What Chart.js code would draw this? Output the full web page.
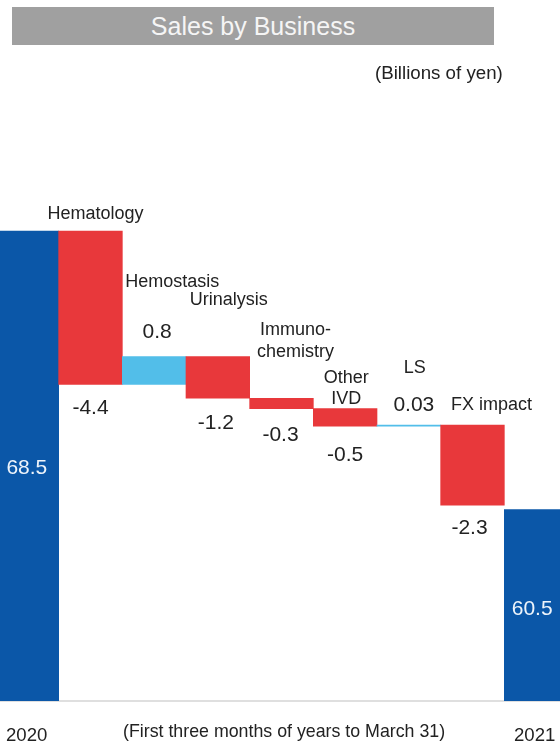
<!DOCTYPE html>
<html>
<head>
<meta charset="utf-8">
<script src="https://cdn.jsdelivr.net/npm/chart.js@4"></script>
<style>
  html, body { margin: 0; padding: 0; width: 560px; height: 744px; overflow: hidden; background: #fff; font-family: "Liberation Sans", Arial, sans-serif; }
  #wrap { position: absolute; left: -5px; top: 0; width: 573px; height: 744px; }
  .t { position: absolute; color: #222; white-space: nowrap; }
  #title { position: absolute; left: 12px; top: 7px; width: 482px; height: 38px; background: #a0a0a0; color: #f5f5f5; font-size: 25px; line-height: 38px; text-align: center; }
</style>
</head>
<body>
<div id="wrap"><canvas id="c"></canvas></div>
<div id="title">Sales by Business</div>
<div class="t" style="left:375px; top:62px; font-size:18.7px;">(Billions of yen)</div>
<div class="t" style="left:6px; top:724px; font-size:18.6px;">2020</div>
<div class="t" style="left:514px; top:724px; font-size:18.6px;">2021</div>
<div class="t" style="left:123px; top:721px; font-size:17.8px;">(First three months of years to March 31)</div>
<script>
// ---- data ----
const categories = ['2020', 'Hematology', 'Hemostasis', 'Urinalysis', 'Immuno-chemistry', 'Other IVD', 'LS', 'FX impact', '2021'];
const startTotal = 68.5;
const endTotal = 60.5;
const changes = [-4.4, 0.8, -1.2, -0.3, -0.5, 0.03, -2.3];
const valueLabels = ['68.5', '-4.4', '0.8', '-1.2', '-0.3', '-0.5', '0.03', '-2.3', '60.5'];
const nameLines = [[], ['Hematology'], ['Hemostasis'], ['Urinalysis'], ['Immuno-', 'chemistry'], ['Other', 'IVD'], ['LS'], ['FX impact'], []];
const axisMin = 55;
const axisMax = 72.27;

// ---- build floating bars ----
const ranges = [[axisMin, startTotal]];
let run = startTotal;
changes.forEach(d => { ranges.push([run, run + d]); run += d; });
ranges.push([axisMin, endTotal]);

const BLUE = '#0b57a8', RED = '#e8383b', LIGHT = '#52bee9';
const colors = ranges.map((r, i) => (i === 0 || i === ranges.length - 1) ? BLUE : (r[1] >= r[0] ? LIGHT : RED));

// label placement (style): name offsets relative to bar top, value offsets relative to bar top/bottom
const nameStyle = [null,
  {dx: 5, dy: [-17]},
  {dx: 18, dy: [-74]},
  {dx: 11, dy: [-56]},
  {dx: 14, dy: [-68, -46]},
  {dx: 1, dy: [-31, -10]},
  {dx: 6, dy: [-57]},
  {dx: 19, dy: [-20]},
  null];
const valueStyle = [
  {inside: true, dx: 0, dy: 2},
  {from: 'bottom', dx: 0, dy: 24},
  {from: 'top', dx: 3, dy: -24},
  {from: 'bottom', dx: -2, dy: 25},
  {from: 'bottom', dx: -1, dy: 27},
  {from: 'bottom', dx: 0, dy: 29},
  {from: 'top', dx: 5, dy: -20},
  {from: 'bottom', dx: -3, dy: 23},
  {inside: true, dx: -4, dy: 4}];

const baseline = {
  id: 'baseline',
  beforeDatasetsDraw(chart) {
    const {ctx, chartArea} = chart;
    ctx.save();
    ctx.strokeStyle = '#d4d4d4';
    ctx.lineWidth = 1.5;
    ctx.beginPath();
    ctx.moveTo(0, chartArea.bottom);
    ctx.lineTo(chart.width, chartArea.bottom);
    ctx.stroke();
    ctx.restore();
  }
};

const labels = {
  id: 'labels',
  afterDatasetsDraw(chart) {
    const {ctx} = chart;
    const meta = chart.getDatasetMeta(0);
    ctx.save();
    ctx.textAlign = 'center';
    ctx.textBaseline = 'middle';
    meta.data.forEach((el, i) => {
      const top = Math.min(el.y, el.base), bottom = Math.max(el.y, el.base);
      const ns = nameStyle[i];
      if (ns) {
        ctx.fillStyle = '#222';
        ctx.font = '18px "Liberation Sans", Arial, sans-serif';
        nameLines[i].forEach((ln, k) => ctx.fillText(ln, el.x + ns.dx, top + ns.dy[k]));
      }
      const vs = valueStyle[i];
      ctx.font = '21px "Liberation Sans", Arial, sans-serif';
      if (vs.inside) {
        ctx.fillStyle = '#eef4fb';
        ctx.fillText(valueLabels[i], el.x + vs.dx, (top + bottom) / 2 + vs.dy);
      } else {
        ctx.fillStyle = '#222';
        const y = vs.from === 'top' ? top + vs.dy : bottom + vs.dy;
        ctx.fillText(valueLabels[i], el.x + vs.dx, y);
      }
    });
    ctx.restore();
  }
};

new Chart(document.getElementById('c'), {
  type: 'bar',
  data: {
    labels: categories,
    datasets: [{
      data: ranges,
      backgroundColor: colors,
      borderWidth: 0,
      barPercentage: 1,
      categoryPercentage: 1
    }]
  },
  options: {
    responsive: true,
    maintainAspectRatio: false,
    animation: false,
    layout: { padding: { top: 100, bottom: 43, left: 0, right: 0 } },
    plugins: { legend: { display: false }, tooltip: { enabled: false }, title: { display: false } },
    scales: {
      x: { display: false },
      y: { display: false, min: axisMin, max: axisMax }
    }
  },
  plugins: [baseline, labels]
});
</script>
</body>
</html>
